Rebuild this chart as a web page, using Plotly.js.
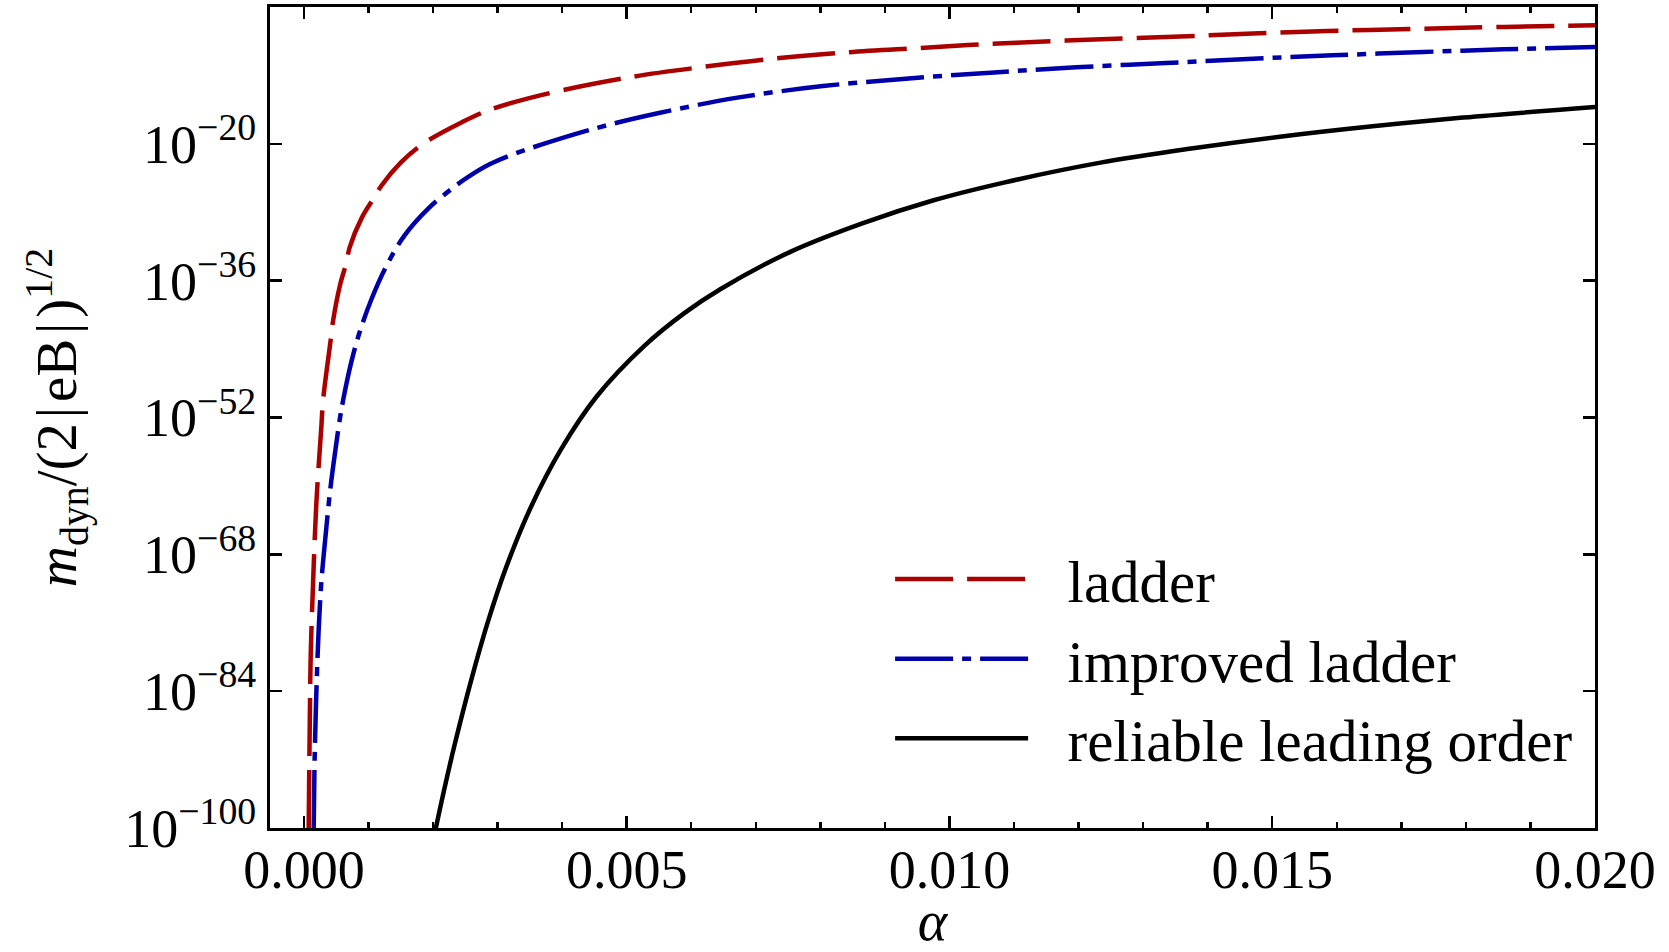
<!DOCTYPE html>
<html>
<head>
<meta charset="utf-8">
<script src="https://cdn.plot.ly/plotly-3.0.1.min.js"></script>
<style>html,body{margin:0;padding:0;background:#fff;}</style>
</head>
<body>
<div id="chart" style="width:1669px;height:952px;"></div>
<script>
// ---- data (alpha, log10 of m_dyn/(2|eB|)^{1/2}) ----
const ladderAlpha = [0.000074, 0.00009, 0.000105, 0.000142, 0.000193, 0.000271, 0.000297, 0.000426, 0.000452, 0.000560, 0.000658, 0.000709, 0.000900, 0.001096, 0.0012, 0.00150, 0.001845, 0.00244, 0.00285, 0.003676, 0.005057, 0.00619, 0.007323, 0.008428, 0.009534, 0.010667, 0.0118, 0.013576, 0.0147, 0.01585, 0.01697, 0.0181, 0.01936, 0.0200];
const ladderLog = [-100, -88.5, -80.0, -71.4, -62.0, -53.0, -50.0, -42.3, -40.7, -36.5, -33.9, -32.1, -28.6, -26.2, -24.9, -22.2, -20.0, -17.5, -16.1, -14.3, -12.2, -11.0, -10.0, -9.3, -8.8, -8.3, -7.93, -7.45, -7.1, -6.8, -6.6, -6.4, -6.22, -6.14];

const improvedAlpha = [0.000152, 0.000167, 0.000193, 0.000229, 0.000271, 0.000340, 0.000415, 0.000503, 0.000554, 0.000607, 0.000735, 0.000864, 0.001045, 0.001277, 0.00156, 0.001922, 0.00230, 0.00254, 0.002876, 0.00325, 0.003676, 0.00456, 0.0055, 0.006715, 0.00804, 0.00937, 0.010695, 0.011965, 0.01335, 0.0147, 0.01594, 0.01734, 0.01858, 0.0200];
const improvedLog = [-100, -91.8, -84.2, -76.8, -71.2, -65.5, -60.0, -55.0, -52.3, -50.0, -45.5, -42.0, -38.2, -34.3, -30.7, -27.6, -25.2, -23.9, -22.4, -21.2, -20.1, -18.1, -16.4, -14.6, -13.25, -12.35, -11.65, -11.05, -10.55, -10.05, -9.65, -9.26, -8.95, -8.67];

const reliableAlpha = [0.00203, 0.00218, 0.002334, 0.002592, 0.00285, 0.003134, 0.003521, 0.003985, 0.004529, 0.005278, 0.005893, 0.00645, 0.007544, 0.00865, 0.009755, 0.01086, 0.01234, 0.013745, 0.01515, 0.016554, 0.017957, 0.0200];
const reliableLog = [-100.5, -95.3, -90.3, -82.7, -75.9, -69.5, -62.4, -55.7, -49.6, -43.6, -39.8, -37.0, -32.6, -29.3, -26.6, -24.5, -22.2, -20.55, -19.14, -17.95, -16.93, -15.7];

const seriesNames = ['ladder', 'improved ladder', 'reliable leading order'];

const xTickVals = [0, 0.005, 0.010, 0.015, 0.020];
const xTickText = ['0.000', '0.005', '0.010', '0.015', '0.020'];
const yTickExps = [-100, -84, -68, -52, -36, -20];
const yTickText = ['10<sup>\u2212100</sup>', '10<sup>\u221284</sup>', '10<sup>\u221268</sup>', '10<sup>\u221252</sup>', '10<sup>\u221236</sup>', '10<sup>\u221220</sup>'];

const toVal = arr => arr.map(e => Math.pow(10, e));
const FONT = "'Liberation Serif', 'Times New Roman', serif";
const PAD = '\u00a0\u00a0\u200a';

const traces = [
  {x: ladderAlpha, y: toVal(ladderLog), name: PAD + seriesNames[0], type: 'scatter', mode: 'lines',
   line: {color: '#aa0000', width: 4.5, dash: '58px,14px', shape: 'spline', smoothing: 1}},
  {x: improvedAlpha, y: toVal(improvedLog), name: PAD + seriesNames[1], type: 'scatter', mode: 'lines',
   line: {color: '#0000aa', width: 4.5, dash: '58px,9px,9px,9px', shape: 'spline', smoothing: 1}},
  {x: reliableAlpha, y: toVal(reliableLog), name: PAD + seriesNames[2], type: 'scatter', mode: 'lines',
   line: {color: '#000000', width: 4.5, shape: 'spline', smoothing: 1}}
];

const layout = {
  width: 1669, height: 952,
  margin: {l: 270, r: 74, t: 7, b: 124, pad: 0},
  paper_bgcolor: '#ffffff', plot_bgcolor: '#ffffff',
  font: {family: FONT, color: '#000000', size: 54},
  showlegend: true,
  legend: {x: 0.468, y: 0.358, xanchor: 'left', yanchor: 'top', bgcolor: 'rgba(0,0,0,0)',
           font: {family: FONT, size: 59, color: '#000000'}, itemwidth: 133, tracegroupgap: 0},
  xaxis: {
    type: 'linear', range: [-0.000525, 0.020], autorange: false,
    showline: true, linewidth: 3, linecolor: '#000000', mirror: 'ticks',
    ticks: 'inside', ticklen: 12, tickwidth: 2.5, tickcolor: '#000000',
    tickmode: 'array', tickvals: xTickVals, ticktext: xTickText, ticklabelstandoff: -8,
    minor: {tickmode: 'linear', tick0: 0, dtick: 0.001, ticks: 'inside', ticklen: 6, tickwidth: 2.5, tickcolor: '#000000', showgrid: false},
    showgrid: false, zeroline: false,
    tickfont: {family: FONT, size: 54, color: '#000000'},
    title: {text: '<i>\u03b1</i>', font: {family: FONT, size: 56, color: '#000000'}, standoff: 35}
  },
  yaxis: {
    type: 'log', range: [-100, -4], autorange: false,
    showline: true, linewidth: 3, linecolor: '#000000', mirror: 'ticks',
    ticks: 'inside', ticklen: 12, tickwidth: 2.5, tickcolor: '#000000',
    tickmode: 'array', tickvals: toVal(yTickExps), ticktext: yTickText,
    showgrid: false, zeroline: false,
    tickfont: {family: FONT, size: 54, color: '#000000'},
    title: {text: '<i>m</i><sub>dyn</sub>/(2\u200a|\u200aeB\u200a|\u200a)<sup>1/2</sup>', font: {family: FONT, size: 57, color: '#000000'}, standoff: 30}
  }
};

Plotly.newPlot('chart', traces, layout, {displayModeBar: false, staticPlot: true});
</script>
</body>
</html>
